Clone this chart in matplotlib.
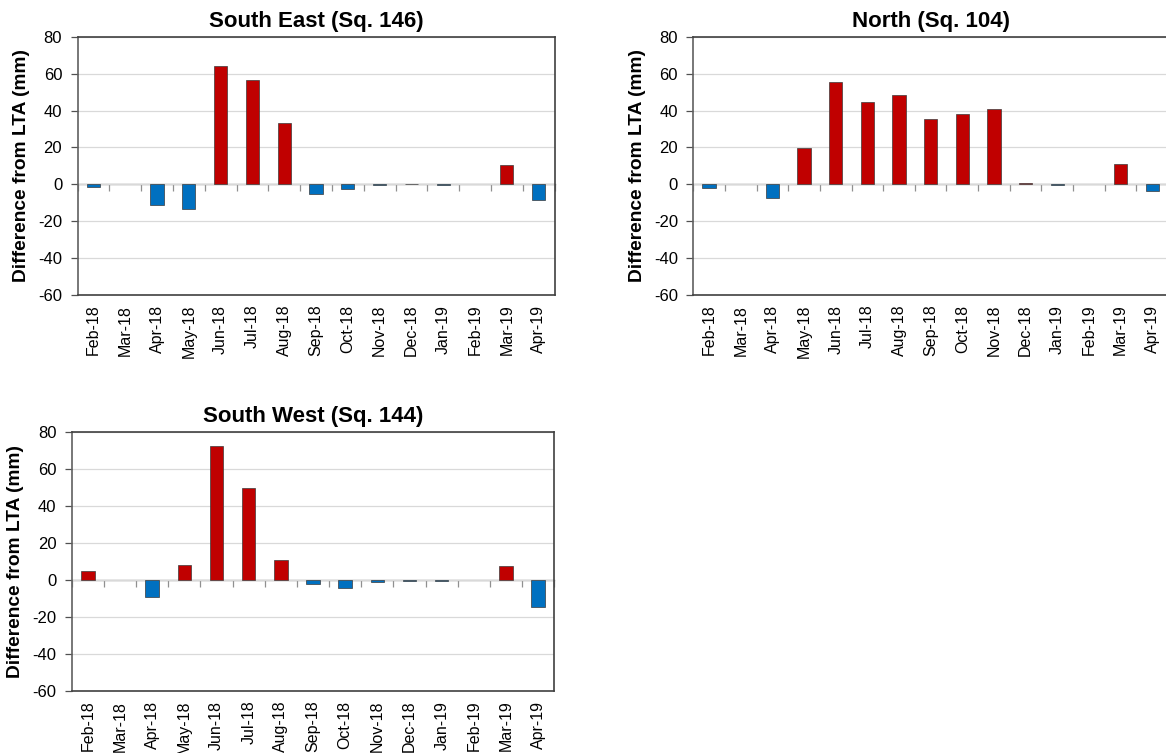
import numpy as np
import matplotlib.pyplot as plt

plt.rcParams['font.family'] = ['Liberation Sans', 'DejaVu Sans']
plt.rcParams['axes.unicode_minus'] = False

months = ['Feb-18', 'Mar-18', 'Apr-18', 'May-18', 'Jun-18', 'Jul-18', 'Aug-18',
          'Sep-18', 'Oct-18', 'Nov-18', 'Dec-18', 'Jan-19', 'Feb-19', 'Mar-19', 'Apr-19']

south_east = [-1.5, 0, -11, -13.2, 64, 56.5, 33, -5, -2.7, -0.5, 0.4, -0.4, 0, 10.5, -8.5]
north = [-2.2, 0, -7.5, 19.8, 55.3, 44.5, 48.5, 35.5, 38.2, 40.7, 0.7, -0.3, 0, 10.8, -3.8]
south_west = [4.9, 0, -9.4, 8.3, 72.5, 49.8, 10.8, -2.3, -4.1, -1.0, -0.4, -0.4, 0, 7.5, -14.6]

titles = ['South East (Sq. 146)', 'North (Sq. 104)', 'South West (Sq. 144)']

W, H = 1166, 753
fig = plt.figure(figsize=(W / 100, H / 100), dpi=100)

def px_axes(left, top, right, bottom):
    return fig.add_axes([left / W, 1 - bottom / H, (right - left) / W, (bottom - top) / H])

def panel(ax, vals, title):
    x = np.arange(len(months))
    vals = np.array(vals)
    colors = np.where(vals >= 0, '#C00000', '#0070C0')
    lw = np.where(vals == 0, 0, 0.5)
    ax.bar(x, vals, width=0.42, color=colors, edgecolor='#3a3a3a', linewidth=lw, zorder=3)
    ax.set_xlim(-0.5, len(months) - 0.5)
    ax.set_ylim(-60, 80)
    ax.set_yticks(np.arange(-60, 81, 20))
    ax.grid(axis='y', color='#d9d9d9', linewidth=0.9, zorder=0)
    ax.set_xticks(x)
    ax.set_xticklabels(months, rotation=90, fontsize=11.5)
    ax.tick_params(axis='x', length=0, pad=7)
    ax.tick_params(axis='y', length=5, width=0.9, color='#505050', pad=6, labelsize=12)
    for s in ax.spines.values():
        s.set_color('#404040')
        s.set_linewidth(1.2)
    ax.spines['left'].set_color('#606060')
    # zero line with ticks at category boundaries
    sec = ax.secondary_xaxis(60 / 140)
    sec.set_xticks(np.arange(len(months) + 1) - 0.5)
    sec.set_xticklabels([])
    sec.tick_params(axis='x', direction='out', length=5, width=0.9, color='#909090')
    sec.spines['bottom'].set_color('#909090')
    sec.spines['bottom'].set_linewidth(1.0)
    sec.spines['top'].set_color('#909090')
    ax.set_title(title, fontsize=16, fontweight='bold', pad=7)
    ax.set_ylabel('Difference from LTA (mm)', fontsize=13.8, fontweight='bold', labelpad=6)

ax1 = px_axes(77.5, 36.7, 554.5, 295)
panel(ax1, south_east, titles[0])
ax2 = px_axes(693.3, 36.7, 1168, 295)
panel(ax2, north, titles[1])
ax3 = px_axes(71.8, 432, 554.3, 691)
panel(ax3, south_west, titles[2])

fig.savefig('out.png', dpi=100)
